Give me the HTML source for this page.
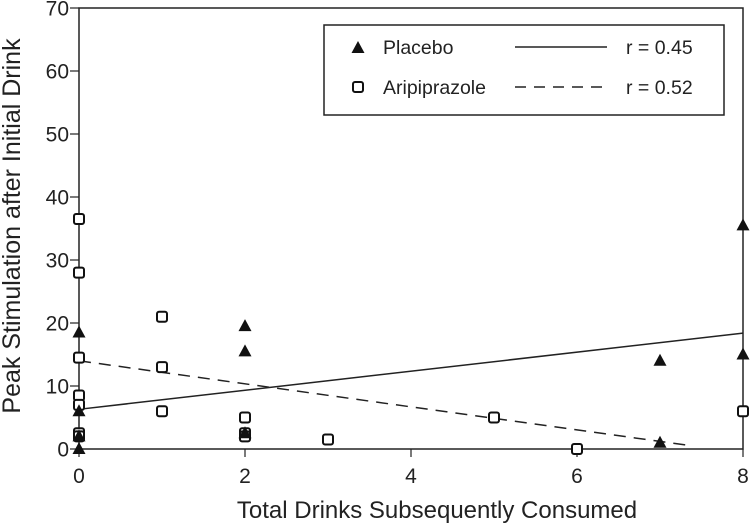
<!DOCTYPE html>
<html><head><meta charset="utf-8"><style>
body{margin:0;background:#fff;}
svg{display:block;font-family:"Liberation Sans",sans-serif;}
</style></head><body>
<svg id="chart" width="750" height="524"></svg>
<script>
const xTicks=[0,2,4,6,8];
const yTicks=[0,10,20,30,40,50,60,70];
const placeboX=[0,0,0,0,2,2,2,7,7,8,8];
const placeboY=[0,2,6,18.5,19.5,15.5,2.5,14,1,35.5,15];
const aripX=[0,0,0,0,0,0,0,1,1,1,2,2,2,3,5,6,8];
const aripY=[36.5,28,14.5,8.5,7,2.5,2,21,13,6,5,2.5,2,1.5,5,0,6];
const placeboFit=[[0,6.3],[8,18.4]];
const aripFit=[[0,14],[7.33,0.6]];

const L=79,R=743,T=8,B=449;
const sx=v=>L+(R-L)*v/8;
const sy=v=>B-(B-T)*v/70;
const svg=document.getElementById('chart');
const NS='http://www.w3.org/2000/svg';
function mk(tag,attrs,parent){const e=document.createElementNS(NS,tag);for(const k in attrs)e.setAttribute(k,attrs[k]);(parent||svg).appendChild(e);return e;}

let e=mk('rect',{x:L,y:T,width:R-L,height:B-T,fill:'none',stroke:'#222','stroke-width':1.5});



xTicks.forEach(t=>{
  let l=mk('line',{x1:sx(t),x2:sx(t),y1:B,y2:B+8,stroke:'#222','stroke-width':1.2});
  
  
  let tx=mk('text',{x:sx(t),y:483,'text-anchor':'middle','font-size':21,fill:'#222'});
  tx.textContent=t;
  
  
});
yTicks.forEach(t=>{
  let l=mk('line',{x1:L-9,x2:L,y1:sy(t),y2:sy(t),stroke:'#222','stroke-width':1.2});
  
  
  let tx=mk('text',{x:69,y:sy(t)+7.5,'text-anchor':'end','font-size':21,fill:'#222'});
  tx.textContent=t;
  
  
});
let xt=mk('text',{x:437,y:518,'text-anchor':'middle','font-size':24,fill:'#222'});
xt.textContent='Total Drinks Subsequently Consumed';


let yt=mk('text',{x:0,y:0,'text-anchor':'middle','font-size':25,fill:'#222',transform:'translate(20,226) rotate(-90)'});
yt.textContent='Peak Stimulation after Initial Drink';



let f1=mk('line',{x1:sx(placeboFit[0][0]),y1:sy(placeboFit[0][1]),x2:sx(placeboFit[1][0]),y2:sy(placeboFit[1][1]),stroke:'#222','stroke-width':1.5});


let f2=mk('line',{x1:sx(aripFit[0][0]),y1:sy(aripFit[0][1]),x2:sx(aripFit[1][0]),y2:sy(aripFit[1][1]),stroke:'#222','stroke-width':1.5,'stroke-dasharray':'12,8'});



function tri(cx,cy,p){return mk('path',{d:`M${cx},${cy-7} L${cx+6.5},${cy+5} L${cx-6.5},${cy+5} Z`,fill:'#111'},p);}
function sq(cx,cy,p){return mk('rect',{x:cx-5,y:cy-5,width:10,height:10,rx:2,fill:'#fff',stroke:'#111','stroke-width':2},p);}

aripX.forEach((x,i)=>{
  let m=sq(sx(x),sy(aripY[i]));
  
  
});
placeboX.forEach((x,i)=>{
  let m=tri(sx(x),sy(placeboY[i]));
  
  
});

// legend
const lg=mk('g',{});


mk('rect',{x:324,y:25,width:400,height:90,fill:'#fff',stroke:'#222','stroke-width':1.5},lg);
let lt=tri(358,48,lg);


let ls=sq(358,87,lg);


[['Placebo',54,'r  = 0.45'],['Aripiprazole',94,'r  = 0.52']].forEach((r,i)=>{
  let a=mk('text',{x:383,y:r[1],'font-size':19.5,fill:'#222'},lg);a.textContent=r[0];
  
  
  let b=mk('text',{x:626,y:r[1],'font-size':19.5,fill:'#222','xml:space':'preserve'},lg);b.textContent=r[2];
  
  
});
mk('line',{x1:515,x2:607,y1:47,y2:47,stroke:'#222','stroke-width':1.5},lg);
mk('line',{x1:515,x2:607,y1:87,y2:87,stroke:'#222','stroke-width':1.5,'stroke-dasharray':'11,8'},lg);
</script>
</body></html>
